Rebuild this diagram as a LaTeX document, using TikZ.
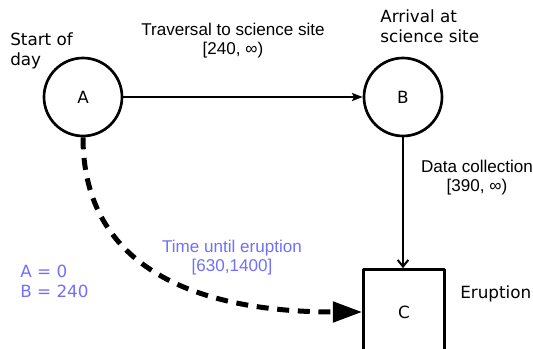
\documentclass[tikz,border=0pt]{standalone}
\usepackage{fontspec}
\setmainfont{DejaVu Sans}
\newfontfamily\lsans{Liberation Sans}
\usetikzlibrary{arrows.meta}
\definecolor{violetblue}{RGB}{112,112,250}
\begin{document}
\begin{tikzpicture}[x=0.75pt,y=-0.75pt,line join=round,
	state/.style={draw,circle,line width=2pt,minimum size=58.5pt,inner sep=0pt,font=\fontsize{12.6}{15}\selectfont},
	event/.style={draw,rectangle,line width=2pt,minimum width=60.75pt,minimum height=63.75pt,inner sep=0pt,font=\fontsize{12.6}{15}\selectfont},
	lbl/.style={inner sep=0pt,font=\fontsize{12.6}{15.5}\selectfont,align=left},
	edgelbl/.style={inner sep=0pt,font=\lsans\fontsize{12.8}{14.6}\selectfont,align=center}]
	\useasboundingbox (0,0) rectangle (533,349);
	\clip (0,0) rectangle (533,349);
	% the three events
	\node[state] (A) at (83,97) {A};
	\node[state] (B) at (403,97) {B};
	\node[event] (C) at (404,312) {C};
	% event names (anchored on the last line)
	\node[lbl,anchor=base west] (startday) at (10,66) {Start of\\day};
	\node[lbl,anchor=base west] (arrival) at (380,43) {Arrival at\\science site};
	\node[lbl,anchor=base west] (eruption) at (460,299) {Eruption};
	% temporal constraints
	\draw[line width=1.5pt,-{Stealth[length=8pt,width=6pt,inset=1.5pt]}] (A) -- (B);
	\draw[line width=1.5pt,-{Straight Barb[length=5pt,width=8pt,line width=1.5pt]}] (B.south) -- (B.south |- C.north);
	\draw[line width=3.75pt,dash pattern=on 9pt off 6.5pt,-{Triangle[length=22pt,width=15pt]}]
		(A.south) .. controls (83,270) and (200,312) .. (C.west);
	\node[edgelbl,anchor=base] (trav) at (233,55) {Traversal to science site\\{}[240, ∞)};
	\node[edgelbl,anchor=base] (coll) at (477,192) {Data collection\\{}[390, ∞)};
	\node[edgelbl,anchor=base,text=violetblue] (wait) at (232,272) {Time until eruption\\{}[630,1400]};
	% schedule found
	\node[lbl,anchor=base west,text=violetblue] (sched) at (20,298) {A = 0\\B = 240};
\end{tikzpicture}
\end{document}
